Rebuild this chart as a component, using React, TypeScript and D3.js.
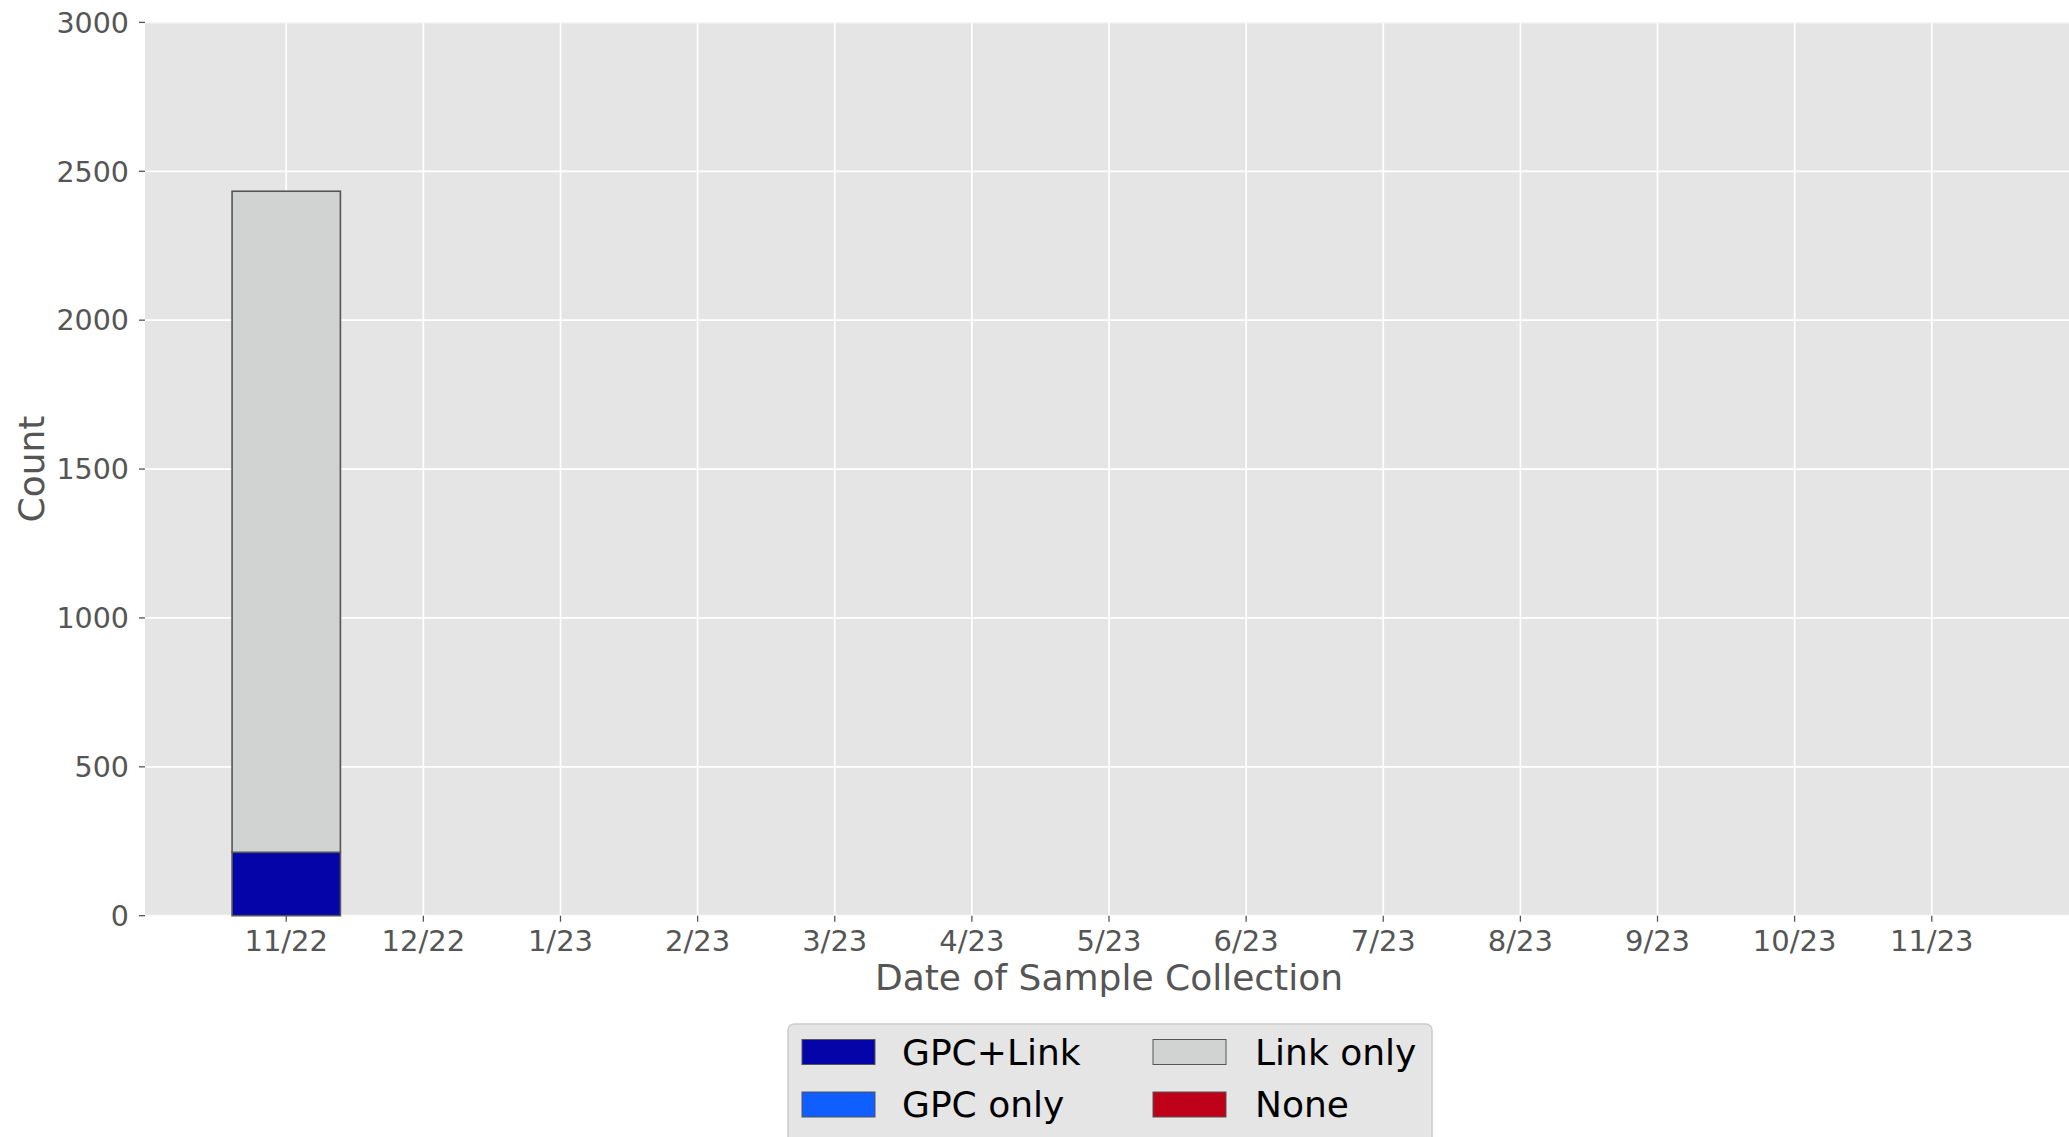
import React from "react";
import * as d3 from "d3";

const months = ["11/22", "12/22", "1/23", "2/23", "3/23", "4/23", "5/23", "6/23", "7/23", "8/23", "9/23", "10/23", "11/23"];
const gpcLink = [213, 0, 0, 0, 0, 0, 0, 0, 0, 0, 0, 0, 0];
const gpcOnly = [0, 0, 0, 0, 0, 0, 0, 0, 0, 0, 0, 0, 0];
const linkOnly = [2220, 0, 0, 0, 0, 0, 0, 0, 0, 0, 0, 0, 0];
const noneVals = [0, 0, 0, 0, 0, 0, 0, 0, 0, 0, 0, 0, 0];
const seriesNames = ["GPC+Link", "GPC only", "Link only", "None"];
const seriesColors = ["#0404a8", "#0f5eff", "#d0d3d2", "#bf0019"];
const yTicks = [0, 500, 1000, 1500, 2000, 2500, 3000];

const W = 2069;
const H = 1137;
const FONT = "'DejaVu Sans', sans-serif";

export default function App() {
  const left = 145;
  const right = 2073;
  const top = 22.4;
  const bottom = 915.7;
  const x = d3.scaleLinear().domain([-1.03, 13.03]).range([left, right]);
  const y = d3.scaleLinear().domain([0, 3000]).range([bottom, top]);
  const bw = 0.79 * (x(1) - x(0));

  const rows = months.map((m, i) => ({
    m,
    i,
    "GPC+Link": gpcLink[i],
    "GPC only": gpcOnly[i],
    "Link only": linkOnly[i],
    None: noneVals[i],
  }));
  const stacked = d3.stack<any>().keys(seriesNames)(rows);

  const legendItems = [
    { name: "GPC+Link", color: seriesColors[0], col: 0, row: 0 },
    { name: "GPC only", color: seriesColors[1], col: 0, row: 1 },
    { name: "Link only", color: seriesColors[2], col: 1, row: 0 },
    { name: "None", color: seriesColors[3], col: 1, row: 1 },
  ];

  return (
    <svg
      width={W}
      height={H}
      style={{ position: "absolute", left: 0, top: 0, background: "#fff" }}
      fontFamily={FONT}
    >
      <defs>
        <clipPath id="panel">
          <rect x={left} y={top} width={right - left} height={bottom - top} />
        </clipPath>
      </defs>
      <rect x={left} y={top} width={right - left} height={bottom - top} fill="#e5e5e5" />
      <g clipPath="url(#panel)">
        {yTicks.map((t) => (
          <line key={"gy" + t} x1={left} x2={right} y1={y(t)} y2={y(t)} stroke="#fff" strokeWidth={1.7} />
        ))}
        {months.map((m, i) => (
          <line key={"gx" + m} x1={x(i)} x2={x(i)} y1={top} y2={bottom} stroke="#fff" strokeWidth={1.7} />
        ))}
      </g>
      {stacked.map((s, si) =>
        s.map((d, i) =>
          d[1] - d[0] > 0 ? (
            <rect
              key={s.key + i}
              x={x(i) - bw / 2}
              y={y(d[1])}
              width={bw}
              height={y(d[0]) - y(d[1])}
              fill={seriesColors[si]}
              stroke="#555"
              strokeWidth={1.6}
            />
          ) : null
        )
      )}
      {yTicks.map((t) => (
        <g key={"ty" + t}>
          <line x1={left - 6} x2={left} y1={y(t)} y2={y(t)} stroke="#555" strokeWidth={1.3} />
          <text x={left - 16} y={y(t)} dy="0.36em" textAnchor="end" fontSize={28.5} fill="#555">
            {t}
          </text>
        </g>
      ))}
      {months.map((m, i) => (
        <g key={"tx" + m}>
          <line x1={x(i)} x2={x(i)} y1={bottom} y2={bottom + 6} stroke="#555" strokeWidth={1.3} />
          <text x={x(i)} y={951} textAnchor="middle" fontSize={29} fill="#555">
            {m}
          </text>
        </g>
      ))}
      <text x={(left + right) / 2} y={990} textAnchor="middle" fontSize={36} fill="#555">
        Date of Sample Collection
      </text>
      <text
        transform={`translate(44, ${(top + bottom) / 2}) rotate(-90)`}
        textAnchor="middle"
        fontSize={36}
        fill="#555"
      >
        Count
      </text>
      <rect x={788} y={1024} width={644} height={140} rx={6} fill="#e5e5e5" stroke="#cccccc" strokeWidth={1.5} />
      {legendItems.map((it) => {
        const px = it.col === 0 ? 802 : 1153;
        const tx = it.col === 0 ? 902 : 1255;
        const cy = it.row === 0 ? 1052 : 1104.5;
        return (
          <g key={it.name}>
            <rect x={px} y={cy - 12.5} width={73} height={25} fill={it.color} stroke="#555" strokeWidth={1} />
            <text x={tx} y={cy} dy="0.36em" fontSize={36} fill="#000">
              {it.name}
            </text>
          </g>
        );
      })}
    </svg>
  );
}
